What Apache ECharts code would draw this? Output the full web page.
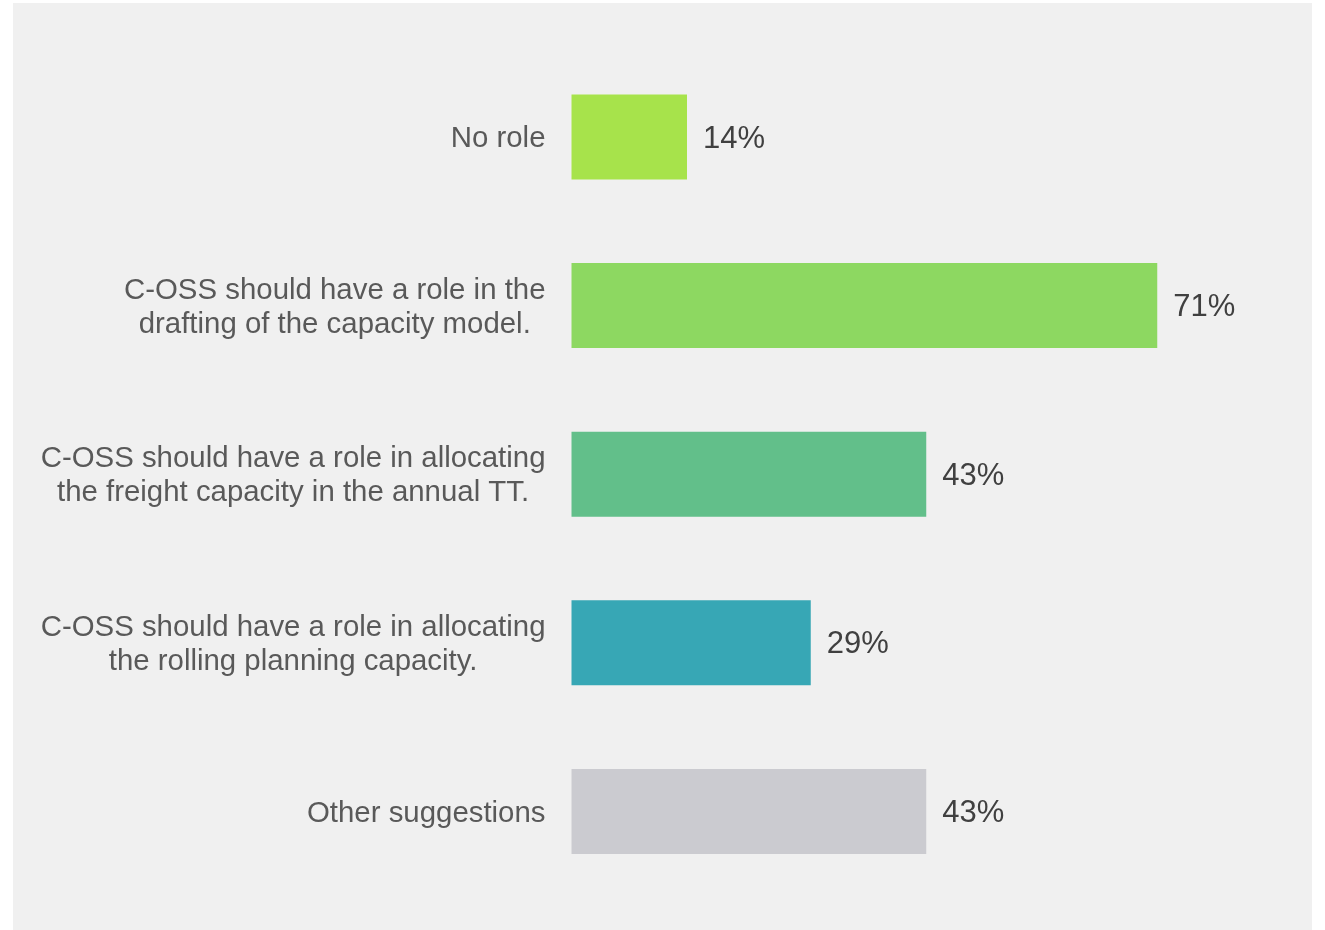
<!DOCTYPE html>
<html>
<head>
<meta charset="utf-8">
<script src="https://cdn.jsdelivr.net/npm/echarts@6/dist/echarts.min.js"></script>
<style>
  html, body { margin: 0; padding: 0; background: #ffffff; }
  #chart { width: 1325px; height: 930px; }
</style>
</head>
<body>
<div id="chart"></div>
<script>
// Survey answers: role of the C-OSS (share of respondents, %)
const categories = [
  'No role',
  'C-OSS should have a role in the\ndrafting of the capacity model.',
  'C-OSS should have a role in allocating\nthe freight capacity in the annual TT.',
  'C-OSS should have a role in allocating\nthe rolling planning capacity.',
  'Other suggestions'
];
const shares = [14, 71, 43, 29, 43];
const barColors = ['#a7e34b', '#8dd861', '#62bf8a', '#37a7b5', '#cbcbd0'];

const chart = echarts.init(document.getElementById('chart'), null, { renderer: 'canvas' });

chart.setOption({
  backgroundColor: '#ffffff',
  animation: false,
  graphic: [{
    type: 'rect',
    z: -10,
    shape: { x: 13, y: 3, width: 1299, height: 927 },
    style: { fill: '#f0f0f0' }
  }],
  grid: {
    left: 571.5,
    top: 52.7,
    width: 660,
    height: 843,
    containLabel: false
  },
  xAxis: {
    type: 'value',
    min: 0,
    max: 80,
    show: false
  },
  yAxis: {
    type: 'category',
    inverse: true,
    data: categories,
    axisLine: { show: false },
    axisTick: { show: false },
    splitLine: { show: false },
    axisLabel: {
      margin: 26,
      align: 'right',
      padding: [4, 0, 0, 0],
      fontFamily: 'Liberation Sans, Arial, sans-serif',
      fontSize: 29.4,
      color: '#595959',
      lineHeight: 34,
      formatter: function (v) {
        return v.split('\n').map(function (s) { return '{c|' + s + '}'; }).join('\n');
      },
      rich: {
        c: {
          align: 'center',
          fontFamily: 'Liberation Sans, Arial, sans-serif',
          fontSize: 29.4,
          color: '#595959',
          lineHeight: 34
        }
      }
    }
  },
  series: [{
    type: 'bar',
    data: shares.map(function (v, i) {
      return { value: v, itemStyle: { color: barColors[i] } };
    }),
    barWidth: 85,
    label: {
      show: true,
      position: 'right',
      distance: 16,
      offset: [0, 2],
      fontFamily: 'Liberation Sans, Arial, sans-serif',
      fontSize: 31,
      color: '#404040',
      formatter: '{c}%'
    }
  }]
});
</script>
</body>
</html>
